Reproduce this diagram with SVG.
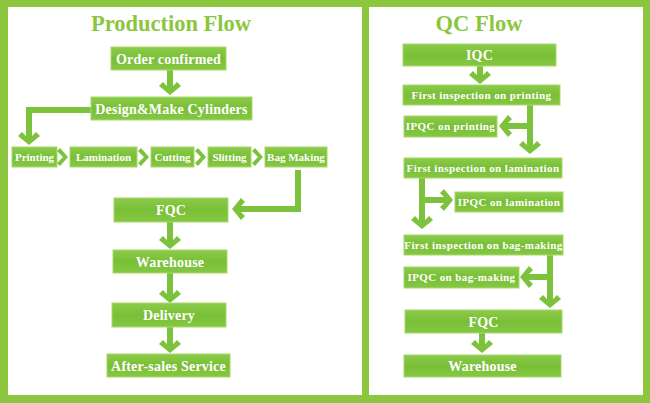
<svg xmlns="http://www.w3.org/2000/svg" xmlns:xlink="http://www.w3.org/1999/xlink" width="650" height="403" viewBox="0 0 650 403">
<defs>
<linearGradient id="bx" x1="0" y1="0" x2="0" y2="1">
<stop offset="0" stop-color="#8ccb4b"/>
<stop offset="0.5" stop-color="#79bf36"/>
<stop offset="1" stop-color="#86c744"/>
</linearGradient>
<path id="chev" d="M-11,-9 L-7,-13 L0,-6 L7,-13 L11,-9 L0,0 Z"/>
<path id="chevs" d="M-9,-8 L-6,-11 L0,-5 L6,-11 L9,-8 L0,0 Z"/>
<style>
.box{fill:url(#bx);stroke:#a6d96a;stroke-width:1}
.t{font-family:"Liberation Serif","Times New Roman",serif;font-weight:bold;fill:#ffffff;text-anchor:middle}
.t13{font-size:14px;letter-spacing:0.2px}
.t10{font-size:11px}
.q10{font-size:11px;letter-spacing:0.4px}
.title{font-family:"Liberation Serif","Times New Roman",serif;font-weight:bold;font-size:22.5px;fill:#8cc63f;text-anchor:middle}
.ln{fill:none;stroke:#7dc23c;stroke-width:6}
.hd{fill:#7dc23c}
</style>
</defs>
<rect x="0" y="0" width="650" height="403" fill="#8cc63f"/>
<rect x="8" y="7" width="354" height="388" fill="#ffffff"/>
<rect x="369" y="7" width="274" height="388" fill="#ffffff"/>
<text class="title" x="171" y="31">Production Flow</text>
<text class="title" x="479" y="31">QC Flow</text>

<g id="connectors">
<line class="ln" x1="170" y1="70" x2="170" y2="90"/>
<use href="#chev" class="hd" transform="translate(170,95)"/>
<polyline class="ln" points="91,110 29,110 29,140"/>
<use href="#chev" class="hd" transform="translate(29,145)"/>
<use href="#chevs" class="hd" transform="translate(68,157) rotate(-90)"/>
<use href="#chevs" class="hd" transform="translate(149,157) rotate(-90)"/>
<use href="#chevs" class="hd" transform="translate(206,157) rotate(-90)"/>
<use href="#chevs" class="hd" transform="translate(263,157) rotate(-90)"/>
<polyline class="ln" points="298,170 298,209 238,209"/>
<use href="#chev" class="hd" transform="translate(232,209) rotate(90)"/>
<line class="ln" x1="170" y1="222" x2="170" y2="244"/>
<use href="#chev" class="hd" transform="translate(170,249)"/>
<line class="ln" x1="170" y1="273" x2="170" y2="298"/>
<use href="#chev" class="hd" transform="translate(170,303)"/>
<line class="ln" x1="170" y1="327" x2="170" y2="348"/>
<use href="#chev" class="hd" transform="translate(170,353)"/>

<line class="ln" x1="480" y1="66" x2="480" y2="79"/>
<use href="#chev" class="hd" transform="translate(480,84)"/>
<line class="ln" x1="530" y1="105" x2="530" y2="148"/>
<use href="#chev" class="hd" transform="translate(530,154)"/>
<line class="ln" x1="530" y1="126" x2="505" y2="126"/>
<use href="#chev" class="hd" transform="translate(499,126) rotate(90)"/>
<line class="ln" x1="422" y1="178" x2="422" y2="223"/>
<use href="#chev" class="hd" transform="translate(422,229)"/>
<line class="ln" x1="422" y1="200" x2="447" y2="200"/>
<use href="#chev" class="hd" transform="translate(453,200) rotate(-90)"/>
<line class="ln" x1="550" y1="255" x2="550" y2="302"/>
<use href="#chev" class="hd" transform="translate(550,308)"/>
<line class="ln" x1="550" y1="277" x2="526" y2="277"/>
<use href="#chev" class="hd" transform="translate(520,277) rotate(90)"/>
<line class="ln" x1="482" y1="333" x2="482" y2="348"/>
<use href="#chev" class="hd" transform="translate(482,353)"/>
</g>

<g id="order-confirmed"><rect class="box" x="111" y="47" width="115" height="23"/><text class="t t13" x="168.5" y="63.5">Order confirmed</text></g>
<g id="design-make-cylinders"><rect class="box" x="91" y="97" width="161" height="23"/><text class="t t13" x="171.5" y="113.5">Design&amp;Make Cylinders</text></g>
<g id="printing"><rect class="box" x="12" y="147" width="45" height="20"/><text class="t t10" x="34.5" y="161">Printing</text></g>
<g id="lamination"><rect class="box" x="70" y="147" width="67" height="20"/><text class="t t10" x="103.5" y="161">Lamination</text></g>
<g id="cutting"><rect class="box" x="151" y="147" width="43" height="20"/><text class="t t10" x="172.5" y="161">Cutting</text></g>
<g id="slitting"><rect class="box" x="208" y="147" width="43" height="20"/><text class="t t10" x="229.5" y="161">Slitting</text></g>
<g id="bag-making"><rect class="box" x="265" y="147" width="62" height="20"/><text class="t t10" x="296" y="161">Bag Making</text></g>
<g id="fqc-prod"><rect class="box" x="114" y="198" width="114" height="24"/><text class="t t13" x="171" y="215">FQC</text></g>
<g id="warehouse-prod"><rect class="box" x="113" y="250" width="114" height="23"/><text class="t t13" x="170" y="266.5">Warehouse</text></g>
<g id="delivery"><rect class="box" x="112" y="303" width="114" height="24"/><text class="t t13" x="169" y="320">Delivery</text></g>
<g id="after-sales"><rect class="box" x="107" y="354" width="123" height="23"/><text class="t t13" x="168.5" y="370.5">After-sales Service</text></g>

<g id="iqc"><rect class="box" x="403" y="44" width="153" height="22"/><text class="t t13" x="479.5" y="60">IQC</text></g>
<g id="first-printing"><rect class="box" x="403" y="85" width="157" height="20"/><text class="t q10" x="481.5" y="99">First inspection on printing</text></g>
<g id="ipqc-printing"><rect class="box" x="404" y="116" width="93" height="21"/><text class="t q10" x="450.5" y="130">IPQC on printing</text></g>
<g id="first-lamination"><rect class="box" x="404" y="158" width="158" height="20"/><text class="t q10" x="483" y="172">First inspection on lamination</text></g>
<g id="ipqc-lamination"><rect class="box" x="455" y="192" width="108" height="20"/><text class="t q10" x="509" y="206">IPQC on lamination</text></g>
<g id="first-bag-making"><rect class="box" x="404" y="235" width="159" height="20"/><text class="t q10" x="483.5" y="249">First inspection on bag-making</text></g>
<g id="ipqc-bag-making"><rect class="box" x="404" y="267" width="115" height="21"/><text class="t q10" x="461.5" y="281">IPQC on bag-making</text></g>
<g id="fqc-qc"><rect class="box" x="405" y="310" width="157" height="23"/><text class="t t13" x="483.5" y="326.5">FQC</text></g>
<g id="warehouse-qc"><rect class="box" x="404" y="355" width="157" height="22"/><text class="t t13" x="482.5" y="371">Warehouse</text></g>
</svg>
